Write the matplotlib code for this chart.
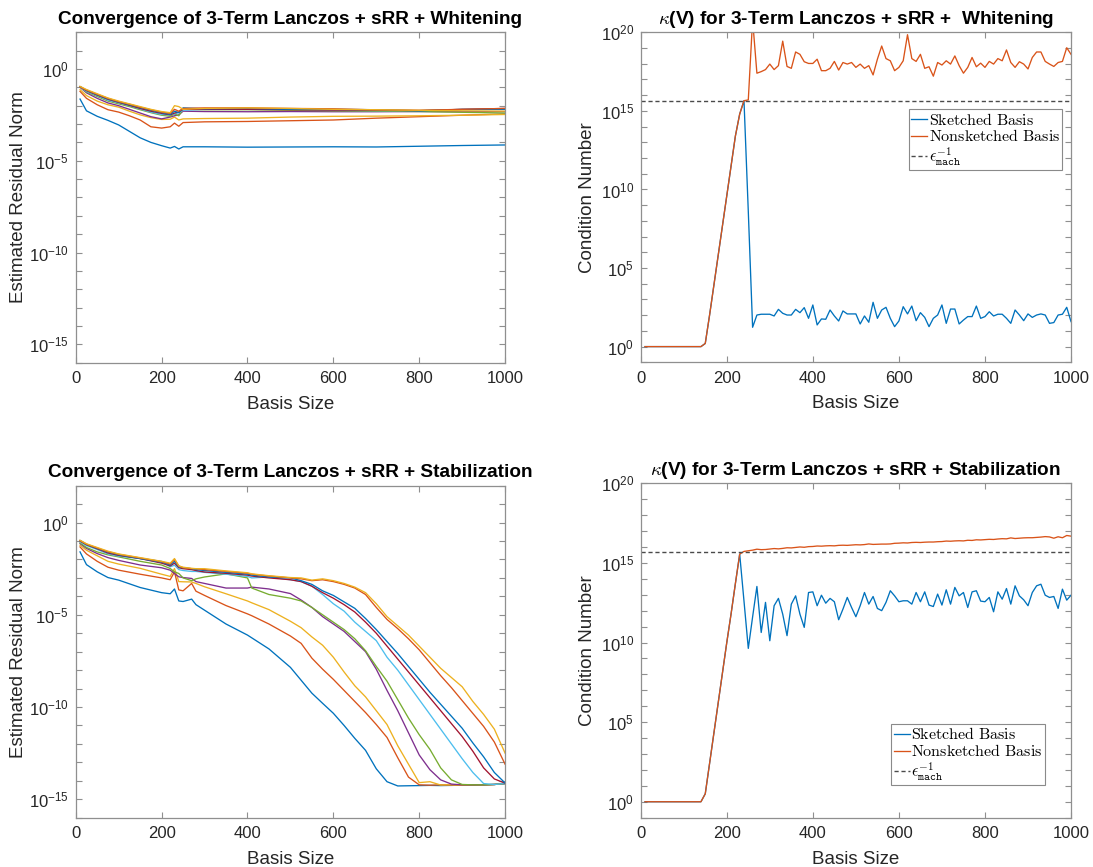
import matplotlib
matplotlib.use('Agg')
import matplotlib.pyplot as plt
import numpy as np
from matplotlib.ticker import FixedLocator, FuncFormatter, NullLocator

# ---- residual histories (log10 of the estimated residual norm) ----
res_sizes_whiten = [10, 25, 50, 75, 100, 125, 150, 175, 200, 220, 230, 240, 250,
                    300, 400, 500, 600, 700, 800, 900, 1000]

wh_res_1 = [-1.64, -2.28, -2.58, -2.80, -3.05, -3.40, -3.75, -4.00, -4.18, -4.31, -4.22, -4.36, -4.24,
            -4.24, -4.26, -4.25, -4.24, -4.25, -4.21, -4.17, -4.14]
wh_res_2 = [-1.22, -1.60, -1.95, -2.22, -2.35, -2.55, -2.78, -3.15, -3.22, -3.15, -2.95, -3.12, -2.92,
            -2.88, -2.86, -2.82, -2.78, -2.68, -2.60, -2.52, -2.45]
wh_res_3 = [-1.13, -1.45, -1.75, -1.95, -2.08, -2.30, -2.50, -2.65, -2.75, -2.74, -2.62, -2.78, -2.72,
            -2.70, -2.68, -2.62, -2.58, -2.57, -2.55, -2.52, -2.48]
wh_res_4 = [-1.00, -1.30, -1.60, -1.85, -2.00, -2.20, -2.40, -2.60, -2.72, -2.62, -2.55, -2.50, -2.30,
            -2.32, -2.33, -2.32, -2.33, -2.33, -2.32, -2.33, -2.32]
wh_res_5 = [-0.98, -1.25, -1.50, -1.75, -1.90, -2.05, -2.22, -2.38, -2.52, -2.58, -2.45, -2.55, -2.20,
            -2.22, -2.22, -2.25, -2.28, -2.30, -2.32, -2.36, -2.40]
wh_res_6 = [-1.00, -1.22, -1.45, -1.70, -1.85, -2.00, -2.18, -2.35, -2.48, -2.50, -2.45, -2.38, -2.25,
            -2.20, -2.18, -2.20, -2.25, -2.27, -2.27, -2.22, -2.20]
wh_res_7 = [-0.97, -1.18, -1.42, -1.65, -1.82, -1.98, -2.15, -2.30, -2.42, -2.50, -2.40, -2.35, -2.20,
            -2.20, -2.20, -2.22, -2.24, -2.25, -2.27, -2.20, -2.15]
wh_res_8 = [-0.96, -1.16, -1.40, -1.62, -1.80, -1.95, -2.10, -2.25, -2.38, -2.48, -2.30, -2.38, -2.12,
            -2.17, -2.15, -2.20, -2.20, -2.22, -2.28, -2.20, -2.20]
wh_res_9 = [-0.98, -1.15, -1.38, -1.60, -1.78, -1.92, -2.08, -2.22, -2.35, -2.42, -2.20, -2.30, -2.15,
            -2.12, -2.12, -2.15, -2.17, -2.23, -2.25, -2.20, -2.15]
wh_res_10 = [-0.95, -1.12, -1.35, -1.58, -1.75, -1.90, -2.05, -2.20, -2.32, -2.38, -2.00, -2.05, -2.20,
             -2.15, -2.12, -2.15, -2.20, -2.22, -2.25, -2.28, -2.30]

res_sizes_stab = [10, 25, 50, 75, 100, 150, 200, 220, 230, 240, 250, 270, 280, 300, 350, 400, 410, 450,
                  500, 525, 550, 575, 600, 625, 650, 675, 700, 725, 750, 775, 800, 825, 850, 875, 900,
                  925, 950, 975, 1000]

st_res_1 = [-1.59, -2.28, -2.67, -2.98, -3.12, -3.52, -3.80, -3.86, -3.60, -4.25, -4.28, -4.15, -4.45,
            -4.75, -5.50, -6.10, -6.25, -6.85, -7.85, -8.55, -9.25, -9.80, -10.34, -11.00, -11.70,
            -12.35, -13.35, -14.05, -14.28, -14.27, -14.26, -14.25, -14.26, -14.25, -14.24, -14.24,
            -14.22, -14.20, -14.15]
st_res_2 = [-1.32, -1.70, -2.10, -2.42, -2.58, -2.80, -3.00, -3.10, -2.67, -3.65, -3.70, -3.30, -3.72,
            -3.95, -4.50, -4.95, -5.05, -5.50, -6.15, -6.55, -7.35, -7.95, -8.50, -9.10, -9.70,
            -10.30, -10.95, -11.65, -12.75, -13.80, -14.22, -14.24, -14.22, -14.23, -14.24, -14.23,
            -14.22, -14.20, -14.15]
st_res_3 = [-1.23, -1.50, -1.80, -2.10, -2.25, -2.48, -2.80, -2.92, -2.49, -3.20, -3.21, -3.22, -3.30,
            -3.48, -3.86, -4.25, -4.35, -4.72, -5.35, -5.70, -6.20, -6.65, -7.30, -8.10, -8.85,
            -9.45, -10.20, -10.95, -12.10, -13.10, -14.10, -14.05, -14.23, -14.22, -14.23, -14.22,
            -14.22, -14.20, -14.15]
st_res_4 = [-1.14, -1.40, -1.68, -1.90, -2.05, -2.30, -2.45, -2.58, -2.76, -2.94, -2.98, -3.03, -3.20,
            -3.30, -3.55, -3.55, -3.50, -3.60, -3.85, -4.20, -4.60, -5.10, -5.50, -5.90, -6.45,
            -7.00, -7.95, -9.10, -10.20, -11.40, -12.60, -13.40, -13.95, -14.18, -14.22, -14.22,
            -14.22, -14.20, -14.15]
st_res_5 = [-1.10, -1.35, -1.59, -1.75, -1.86, -2.10, -2.30, -2.49, -2.67, -2.76, -3.00, -3.15, -3.05,
            -2.95, -2.78, -3.00, -3.55, -3.90, -4.10, -4.25, -4.60, -5.00, -5.40, -5.80, -6.30,
            -6.95, -7.80, -8.60, -9.60, -10.60, -11.50, -12.30, -13.30, -13.95, -14.20, -14.22,
            -14.22, -14.20, -14.15]
st_res_6 = [-1.05, -1.25, -1.46, -1.70, -1.82, -1.95, -2.10, -2.40, -2.31, -2.55, -2.60, -2.65, -2.65,
            -2.70, -2.80, -2.92, -3.00, -2.95, -3.10, -3.20, -3.45, -3.90, -4.40, -4.80, -5.40,
            -5.90, -6.40, -7.30, -8.00, -8.80, -9.60, -10.40, -11.20, -12.00, -12.80, -13.55,
            -14.15, -14.20, -14.15]
st_res_7 = [-1.00, -1.20, -1.42, -1.65, -1.78, -1.95, -2.20, -2.35, -2.20, -2.45, -2.50, -2.55, -2.60,
            -2.68, -2.75, -2.85, -2.90, -3.00, -3.10, -3.20, -3.45, -3.80, -4.10, -4.45, -4.85,
            -5.40, -6.00, -6.70, -7.40, -8.10, -8.80, -9.50, -10.20, -10.90, -11.60, -12.40,
            -13.30, -13.90, -14.13]
st_res_8 = [-0.97, -1.18, -1.40, -1.60, -1.75, -1.95, -2.15, -2.30, -2.10, -2.40, -2.45, -2.50, -2.55,
            -2.60, -2.70, -2.80, -2.85, -2.95, -3.00, -3.15, -3.35, -3.70, -3.95, -4.30, -4.65,
            -5.20, -5.80, -6.45, -7.10, -7.80, -8.50, -9.20, -9.85, -10.50, -11.15, -11.95,
            -12.70, -13.55, -14.12]
st_res_9 = [-0.98, -1.17, -1.38, -1.58, -1.72, -1.92, -2.12, -2.25, -2.00, -2.35, -2.45, -2.50, -2.50,
            -2.55, -2.65, -2.75, -2.80, -2.90, -3.00, -3.05, -3.15, -3.10, -3.20, -3.35, -3.55,
            -3.90, -4.60, -5.25, -5.75, -6.30, -6.90, -7.60, -8.30, -8.95, -9.65, -10.35,
            -11.05, -11.90, -13.10]
st_res_10 = [-0.96, -1.15, -1.35, -1.55, -1.70, -1.90, -2.10, -2.20, -1.95, -2.35, -2.42, -2.48, -2.50,
             -2.50, -2.62, -2.72, -2.78, -2.88, -2.98, -3.00, -3.12, -3.05, -3.15, -3.30, -3.50,
             -3.80, -4.40, -5.10, -5.60, -6.10, -6.70, -7.30, -7.90, -8.40, -8.90, -9.70,
             -10.40, -11.20, -12.50]

# ---- condition numbers (log10), one value every 10 basis vectors ----
cond_sizes = np.arange(10, 1001, 10)

wh_cond_sketched = [0, 0, 0, 0, 0, 0, 0, 0, 0, 0, 0, 0, 0, 0,
                    0.2, 2.0, 3.9, 5.8, 7.7, 9.6, 11.5, 13.4, 14.8, 15.65, 8.6, 1.23,
                    2.01, 2.06, 2.06, 2.06, 1.95, 2.37, 2.12, 2.01, 2.01, 2.37,
                    2.16, 2.48, 1.80, 2.65, 1.38, 1.76, 1.74, 2.33, 1.95, 1.63,
                    2.27, 2.08, 2.08, 2.08, 1.44, 1.95, 1.55, 2.82, 1.80, 2.33,
                    2.50, 1.80, 1.27, 1.63, 2.54, 2.08, 2.58, 1.65, 2.16, 1.86,
                    1.27, 1.80, 2.01, 2.65, 1.48, 2.39, 2.39, 1.44, 1.69, 1.91,
                    1.91, 2.58, 1.80, 1.91, 2.22, 1.95, 2.06, 2.06, 1.80, 1.48,
                    2.33, 2.01, 1.65, 2.08, 1.86, 2.01, 2.08, 2.01, 1.48, 1.53,
                    2.01, 2.06, 2.50, 1.59]
wh_cond_full = [0, 0, 0, 0, 0, 0, 0, 0, 0, 0, 0, 0, 0, 0,
                0.2, 2.0, 3.9, 5.8, 7.7, 9.6, 11.5, 13.4, 14.8, 15.65, 15.7, 20.8,
                17.40, 17.50, 17.63, 17.98, 17.63, 17.88, 19.44, 17.83, 17.71, 18.75,
                18.60, 18.13, 18.02, 18.02, 18.29, 17.56, 17.56, 17.71, 18.15, 17.60,
                18.08, 17.98, 18.08, 17.77, 17.98, 17.71, 17.88, 17.29, 18.29, 19.13,
                18.33, 18.19, 17.56, 17.77, 18.19, 19.85, 18.33, 18.15, 18.60, 17.71,
                17.81, 17.21, 18.08, 17.92, 18.19, 17.98, 18.50, 17.88, 17.40, 17.77,
                18.40, 17.81, 18.04, 17.77, 18.15, 17.98, 18.33, 18.19, 18.88, 18.08,
                17.77, 18.13, 17.98, 17.67, 18.40, 18.75, 18.75, 18.15, 17.98, 17.83,
                18.08, 18.15, 19.02, 18.60]

st_cond_sketched = [0, 0, 0, 0, 0, 0, 0, 0, 0, 0, 0, 0, 0, 0,
                    0.5, 2.4, 4.3, 6.2, 8.1, 10.0, 11.8, 13.7, 15.55, 12.6, 9.63, 11.6,
                    13.52, 10.63, 12.52, 10.11, 12.31, 12.77, 11.78, 10.43, 12.41, 12.93,
                    11.78, 10.95, 13.14, 13.18, 12.31, 12.97, 12.47, 12.77, 12.56, 11.43,
                    12.10, 12.83, 12.20, 11.62, 12.31, 13.14, 12.41, 12.89, 12.14, 12.00,
                    12.52, 13.25, 12.93, 12.56, 12.62, 12.62, 12.41, 13.14, 12.56, 13.18,
                    12.35, 12.26, 13.04, 12.35, 13.31, 12.41, 13.46, 12.93, 13.14, 12.20,
                    13.18, 13.25, 12.60, 12.56, 12.83, 11.93, 13.18, 12.72, 13.39, 12.41,
                    13.56, 12.93, 12.68, 12.31, 13.14, 13.56, 13.66, 12.97, 12.83, 12.89,
                    12.14, 13.35, 12.66, 12.97]
st_cond_full = [0, 0, 0, 0, 0, 0, 0, 0, 0, 0, 0, 0, 0, 0,
                0.5, 2.4, 4.3, 6.2, 8.1, 10.0, 11.8, 13.7, 15.55, 15.72, 15.76, 15.80,
                15.86, 15.83, 15.84, 15.87, 15.90, 15.88, 15.91, 15.95, 15.94, 15.97,
                16.00, 15.98, 16.02, 16.03, 16.06, 16.05, 16.07, 16.08, 16.07, 16.10,
                16.11, 16.10, 16.12, 16.14, 16.13, 16.15, 16.19, 16.16, 16.17, 16.18,
                16.18, 16.19, 16.23, 16.24, 16.26, 16.25, 16.28, 16.29, 16.28, 16.30,
                16.31, 16.31, 16.33, 16.34, 16.37, 16.36, 16.38, 16.39, 16.38, 16.42,
                16.41, 16.45, 16.44, 16.46, 16.48, 16.47, 16.50, 16.52, 16.51, 16.57,
                16.53, 16.55, 16.57, 16.58, 16.58, 16.60, 16.62, 16.65, 16.63, 16.55,
                16.64, 16.58, 16.72, 16.68]

# MATLAB default line colour order
matlab_colors = ['#0072BD', '#D95319', '#EDB120', '#7E2F8E', '#77AC30', '#4DBEEE', '#A2142F']

plt.rcParams['font.family'] = 'Liberation Sans'
plt.rcParams['mathtext.fontset'] = 'cm'

frame_gray = '#8f8f8f'
text_gray = '#262626'
line_w = 0.95


def decade_label(v, pos):
    e = int(round(np.log10(v)))
    if e % 5 == 0:
        return r'$\mathdefault{10^{%d}}$' % e
    return ''


def style_axes(ax, lo, hi):
    ax.set_xlim(0, 1000)
    ax.set_yscale('log')
    ax.set_ylim(10.0 ** lo, 10.0 ** hi)
    ax.set_xticks(range(0, 1001, 200))
    ax.yaxis.set_major_locator(FixedLocator(10.0 ** np.arange(lo, hi + 1)))
    ax.yaxis.set_major_formatter(FuncFormatter(decade_label))
    ax.yaxis.set_minor_locator(NullLocator())
    ax.tick_params(direction='in', top=True, right=True, length=4, width=0.8,
                   color=frame_gray, labelsize=12, labelcolor=text_gray)
    ax.tick_params(axis='x', pad=6)
    ax.tick_params(axis='y', pad=5)
    for s in ax.spines.values():
        s.set_color(frame_gray)
        s.set_linewidth(0.9)
    ax.set_xlabel('Basis Size', fontsize=13.5, color=text_gray, labelpad=7)


def residual_panel(ax, sizes, curves, title):
    for i, c in enumerate(curves):
        ax.plot(sizes, 10.0 ** np.array(c), color=matlab_colors[i % 7], lw=line_w)
    style_axes(ax, -16, 2)
    ax.set_ylabel('Estimated Residual Norm', fontsize=13.5, color=text_gray, labelpad=1)
    ax.set_title(title, fontsize=13.7, fontweight='bold', pad=6)


def condition_panel(ax, sketched, full, title, legend_loc, legend_anchor):
    ax.plot(cond_sizes, 10.0 ** np.array(sketched), color=matlab_colors[0], lw=line_w,
            label=r'$\mathrm{Sketched\ Basis}$')
    ax.plot(cond_sizes, 10.0 ** np.array(full), color=matlab_colors[1], lw=line_w,
            label=r'$\mathrm{Nonsketched\ Basis}$')
    ax.axhline(1.0 / np.finfo(float).eps, color='#4a4a4a', lw=1.0, ls=(0, (3, 2)),
               label=r'$\epsilon_{\mathtt{mach}}^{-1}$')
    style_axes(ax, -1, 20)
    ax.set_ylabel('Condition Number', fontsize=13.5, color=text_gray, labelpad=3)
    ax.set_title(title, fontsize=13.7, fontweight='bold', pad=6)
    leg = ax.legend(loc=legend_loc, bbox_to_anchor=legend_anchor, fontsize=11.5,
                    fancybox=False, framealpha=1, edgecolor='#8a8a8a', borderpad=0.15,
                    labelspacing=0.05, handlelength=1.0, handletextpad=0.1, borderaxespad=0)
    leg.get_frame().set_linewidth(0.8)


fig = plt.figure(figsize=(10.93, 8.67), dpi=100)

ax_tl = fig.add_axes([0.0693, 0.5817, 0.3928, 0.3811])
ax_tr = fig.add_axes([0.5862, 0.5821, 0.3937, 0.3806])
ax_bl = fig.add_axes([0.0693, 0.0569, 0.3928, 0.3829])
ax_br = fig.add_axes([0.5862, 0.0569, 0.3937, 0.3857])

residual_panel(ax_tl, res_sizes_whiten,
               [wh_res_1, wh_res_2, wh_res_3, wh_res_4, wh_res_5,
                wh_res_6, wh_res_7, wh_res_8, wh_res_9, wh_res_10],
               'Convergence of 3-Term Lanczos + sRR + Whitening')
residual_panel(ax_bl, res_sizes_stab,
               [st_res_1, st_res_2, st_res_3, st_res_4, st_res_5,
                st_res_6, st_res_7, st_res_8, st_res_9, st_res_10],
               'Convergence of 3-Term Lanczos + sRR + Stabilization')

condition_panel(ax_tr, wh_cond_sketched, wh_cond_full,
                r'$\kappa$(V) for 3-Term Lanczos + sRR +  Whitening',
                'upper right', (0.98, 0.767))
condition_panel(ax_br, st_cond_sketched, st_cond_full,
                r'$\kappa$(V) for 3-Term Lanczos + sRR + Stabilization',
                'lower right', (0.939, 0.098))

fig.savefig('out.png', dpi=100, facecolor='white')
